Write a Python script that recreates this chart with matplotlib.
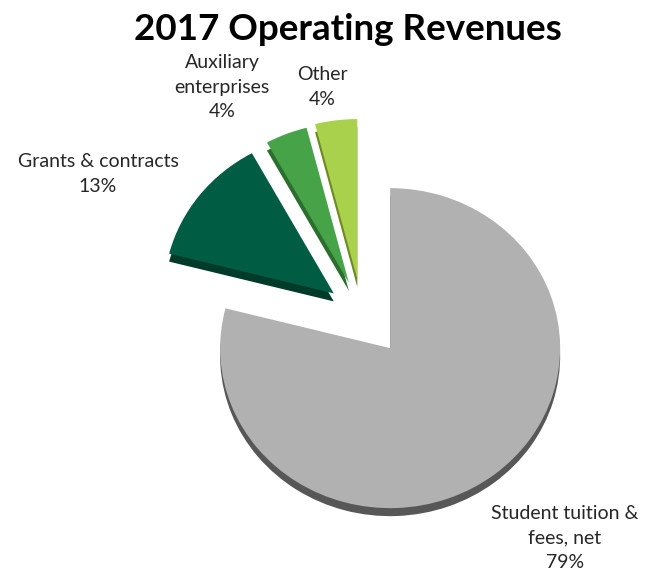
import matplotlib
matplotlib.use("Agg")
import matplotlib.pyplot as plt

plt.rcParams['font.family'] = ['Lato', 'DejaVu Sans']

# data
categories = ["Student tuition &\nfees, net", "Grants & contracts", "Auxiliary\nenterprises", "Other"]
shares = [79, 13, 4, 4]
top_colors = ["#b1b1b1", "#005c42", "#46a348", "#a9d14b"]
side_colors = ["#575757", "#003a29", "#2b6e2e", "#6c8a24"]
explode = [0.27, 0.21, 0.21, 0.22]

W, H = 666, 576
fig = plt.figure(figsize=(W / 100, H / 100), dpi=100)
ax = fig.add_axes([0, 0, 1, 1])

# side of the 3D pie, shifted down, then the top face
ax.pie(shares, colors=side_colors, explode=explode, startangle=90,
       counterclock=False, center=(0, -0.05),
       wedgeprops=dict(linewidth=0))
ax.pie(shares, colors=top_colors, explode=explode, startangle=90,
       counterclock=False, center=(0, 0),
       wedgeprops=dict(linewidth=0))

# map data units to pixels: centre at (362, 314) px, 170 px per unit across, 160 down
cx, cy, sx, sy = 362, 314, 170, 160
ax.set_aspect('auto')
ax.set_xlim((0 - cx) / sx, (W - cx) / sx)
ax.set_ylim((cy - H) / sy, (cy - 0) / sy)
ax.axis('off')

fig.text(348 / W, 1 - 30 / H, "2017 Operating Revenues", ha='center', va='center',
         fontsize=26.5, fontweight='bold', color='black')

label_pos = [(565, 538), (98, 174), (222, 87), (322, 87)]
for name, val, (px, py) in zip(categories, shares, label_pos):
    fig.text(px / W, 1 - py / H, f"{name}\n{val}%", ha='center', va='center',
             fontsize=14, color='#262626', linespacing=1.55)

fig.savefig("out.png", dpi=100)
